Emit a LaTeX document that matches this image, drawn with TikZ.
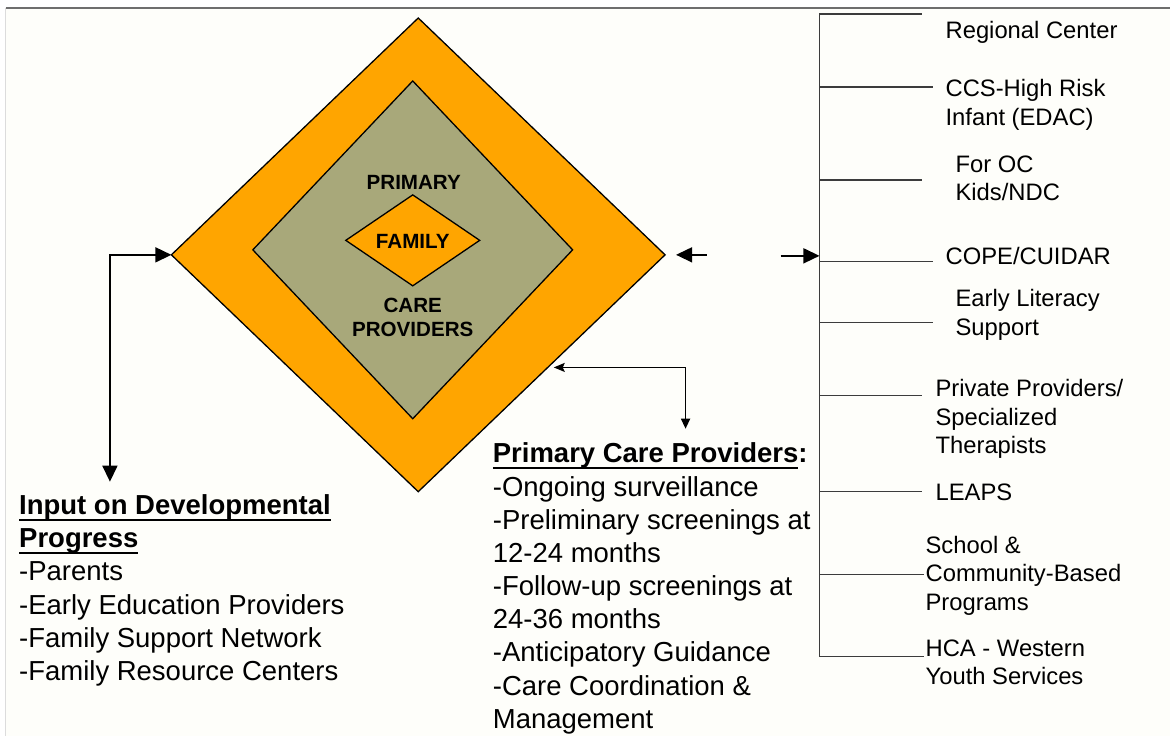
\documentclass[tikz,border=0pt]{standalone}
\usepackage{fontspec}
\setmainfont{Liberation Sans}
\usetikzlibrary{shapes.geometric,arrows.meta}
\definecolor{orng}{RGB}{255,165,0}
\definecolor{olivebg}{RGB}{168,168,122}
\definecolor{paper}{RGB}{254,254,250}
\definecolor{brk}{RGB}{60,60,60}
\definecolor{frametop}{RGB}{110,110,110}
\definecolor{frameleft}{RGB}{220,220,220}
\newsavebox\ulsb
\newcommand\ulbox[1]{\sbox\ulsb{#1}\rlap{\rule[-6.5pt]{\wd\ulsb}{2pt}}\usebox\ulsb}
\begin{document}
\begin{tikzpicture}[x=1pt,y=-1pt,
  dia/.style={diamond, draw=black, line width=1.3pt, inner sep=0pt, outer sep=0pt},
  core/.style={font=\fontsize{20.6}{24}\selectfont\bfseries, inner sep=0pt, anchor=base},
  bigtxt/.style={font=\fontsize{27.5}{33.2}\selectfont, align=left, inner sep=0pt, anchor=north west},
  midtxt/.style={font=\fontsize{27.5}{33.2}\selectfont, align=left, inner sep=0pt, anchor=north west},
  svc/.style={font=\fontsize{23.8}{28.5}\selectfont, align=left, inner sep=0pt, anchor=north west},
  bigarrow/.style={line width=1.5pt, -{Triangle[length=16pt,width=15pt]}},
  bigboth/.style={line width=1.5pt, {Triangle[length=16pt,width=15pt]}-{Triangle[length=16pt,width=15pt]}},
  smallboth/.style={line width=1.4pt, {Stealth[length=11pt,width=9pt,inset=2pt]}-{Triangle[length=10pt,width=9pt]}},
  branch/.style={draw=brk, line width=1.3pt}]
% background and frame
\fill[white] (0,0) rectangle (1171,736);
\fill[paper] (6,8) rectangle (1171,736);
\draw[frametop, line width=1.5pt] (6,8) -- (1171,8);
\draw[frameleft, line width=1pt] (6,8) -- (6,736);
\useasboundingbox (0,0) rectangle (1171,736);

% diamonds
\node[dia, fill=orng, minimum width=494pt, minimum height=474pt] (outer) at (418.5,255) {};
\node[dia, fill=olivebg, minimum width=320pt, minimum height=338pt] (inner) at (413,250) {};
\node[dia, fill=orng, minimum width=134pt, minimum height=91pt] (family) at (413,240.5) {};
\node[core] (prim) at (414,190) {PRIMARY};
\node[core] (fam) at (413,248.5) {FAMILY};
\node[core] (care) at (413,313) {CARE};
\node[core] (prov) at (413,337) {PROVIDERS};

% left text block
\node[bigtxt] (input) at (19,494.8) {\bfseries\ulbox{Input on Developmental}\\
\bfseries\ulbox{Progress}\\
-Parents\\
-Early Education Providers\\
-Family Support Network\\
-Family Resource Centers};

% middle text block
\node[midtxt] (pcp) at (493,443) {\textbf{\ulbox{Primary Care Providers}:}\\
-Ongoing surveillance\\
-Preliminary screenings at\\
12-24 months\\
-Follow-up screenings at\\
24-36 months\\
-Anticipatory Guidance\\
-Care Coordination \&\\
Management};

% right services
\node[svc] (rc) at (946,21.4) {Regional Center};
\node[svc] (ccs) at (946,79.4) {CCS-High Risk\\Infant (EDAC)};
\node[svc] (oc) at (956,155.4) {For OC\\Kids/NDC};
\node[svc] (cope) at (946,247.2) {COPE/CUIDAR};
\node[svc] (lit) at (956,289.4) {Early Literacy\\Support};
\node[svc] (priv) at (936,379.7) {Private Providers/\\Specialized\\Therapists};
\node[svc] (leaps) at (936,483.9) {LEAPS};
\node[svc] (school) at (926,536.2) {School \&\\Community-Based\\Programs};
\node[svc] (hca) at (926,639.9) {HCA - Western\\Youth Services};

% bracket
\coordinate (spinetop) at (820,14);
\coordinate (spinebot) at (820,657);
\coordinate (spinein) at (820,256);
\draw[branch] (spinetop) -- (spinebot);
\foreach \yy/\xx in {14/923, 87/934, 180/923, 262/934, 323/934, 396/923, 492/923, 575/925, 657/925}
  \draw[branch] (820,\yy) -- (\xx,\yy);

% connectors
\coordinate (inend) at (110,482);
\draw[bigboth] (inend) |- (outer.west);
\coordinate (ra) at (707,255);
\draw[bigarrow, shorten >=11pt] (ra) -- (outer.east);
\coordinate (rb) at (781,256);
\draw[bigarrow] (rb) -- (spinein);
\coordinate (pcpend) at (686,429);
\draw[smallboth, shorten <=6pt] (outer.-41.65) -| (pcpend);
\end{tikzpicture}
\end{document}
